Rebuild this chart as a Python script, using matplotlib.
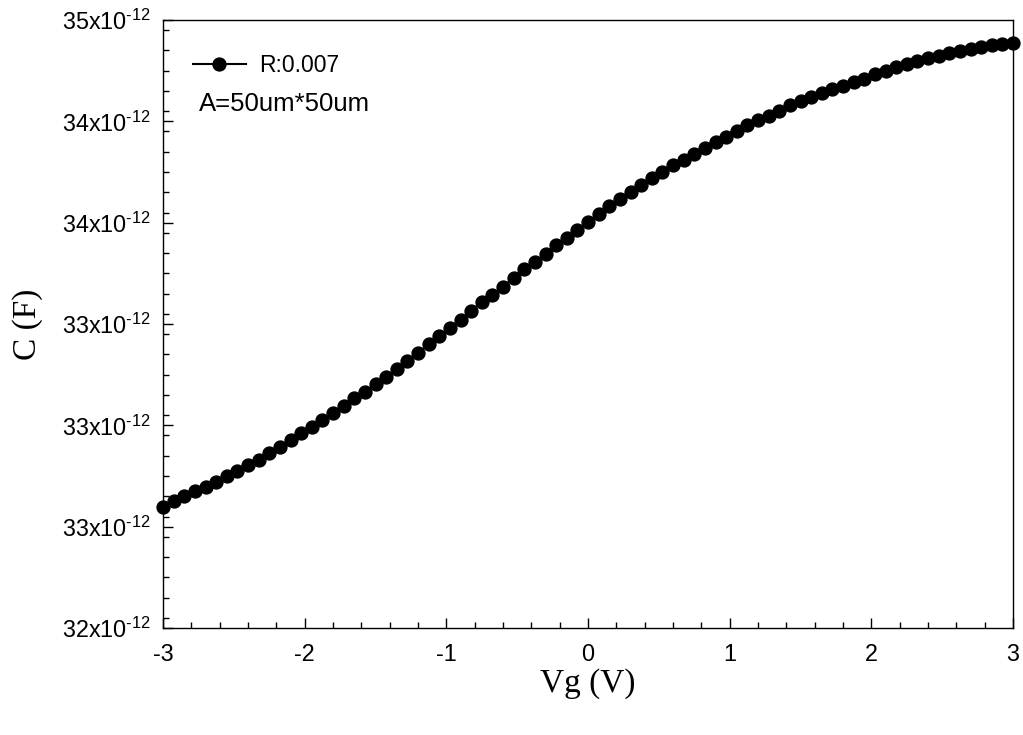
import numpy as np
import matplotlib
matplotlib.use("Agg")
from matplotlib import pyplot as plt
from matplotlib.ticker import FixedLocator, MultipleLocator, FixedFormatter

# Gate voltage sweep, -3 V to 3 V in 0.075 V steps
vg = np.linspace(-3, 3, 81)

# Capacitance (pF)
cap_pf = [
    32.679, 32.703, 32.721, 32.739, 32.758, 32.777, 32.799, 32.820, 32.843, 32.865,
    32.892, 32.915, 32.941, 32.969, 32.992, 33.023, 33.050, 33.077, 33.107, 33.133,
    33.162, 33.191, 33.224, 33.254, 33.286, 33.320, 33.353, 33.386, 33.417, 33.452,
    33.486, 33.515, 33.548, 33.582, 33.616, 33.646, 33.676, 33.711, 33.739, 33.773,
    33.804, 33.835, 33.865, 33.893, 33.923, 33.950, 33.976, 33.999, 34.026, 34.049,
    34.073, 34.095, 34.118, 34.140, 34.163, 34.184, 34.204, 34.223, 34.242, 34.264,
    34.280, 34.296, 34.312, 34.328, 34.341, 34.356, 34.369, 34.385, 34.400, 34.414,
    34.426, 34.439, 34.449, 34.459, 34.468, 34.478, 34.487, 34.494, 34.500, 34.505,
    34.510,
]

# y tick positions (pF) and the labels as the original prints them
y_ticks = [32.2, 32.6, 33.0, 33.4, 33.8, 34.2, 34.6]
y_labels = ["32", "33", "33", "33", "34", "34", "35"]
x_ticks = [-3, -2, -1, 0, 1, 2, 3]

series_label = "R:0.007"
area_note = "A=50um*50um"

plt.rcParams["font.family"] = ["Liberation Sans", "DejaVu Sans"]
plt.rcParams["mathtext.fontset"] = "custom"
plt.rcParams["mathtext.rm"] = "Liberation Sans"
plt.rcParams["mathtext.it"] = "Liberation Sans:italic"
plt.rcParams["mathtext.bf"] = "Liberation Sans:bold"
plt.rcParams["axes.unicode_minus"] = False

fig = plt.figure(figsize=(10.23, 7.35), dpi=100)
ax = fig.add_axes([163 / 1023, 107 / 735, 850 / 1023, 608 / 735])

ax.plot(vg, cap_pf, color="black", linewidth=1.5, marker="o",
        markersize=9.3, markerfacecolor="black", markeredgecolor="black",
        label=series_label, clip_on=False, zorder=3)

ax.set_xlim(-3, 3)
ax.set_ylim(32.2, 34.6)

ax.xaxis.set_major_locator(FixedLocator(x_ticks))
ax.xaxis.set_minor_locator(MultipleLocator(0.2))
ax.yaxis.set_major_locator(FixedLocator(y_ticks))
ax.yaxis.set_major_formatter(FixedFormatter([s + r"x10$^{\text{-12}}$" for s in y_labels]))
ax.yaxis.set_minor_locator(MultipleLocator(0.08))

ax.tick_params(which="both", direction="in", top=False, right=False,
               labelsize=16.8, width=1.0)
ax.tick_params(which="major", length=7)
ax.tick_params(which="minor", length=4.5)
ax.tick_params(axis="x", pad=11)
ax.tick_params(axis="y", pad=9)

for spine in ax.spines.values():
    spine.set_linewidth(1.0)

ax.set_xlabel("Vg (V)", fontsize=24, family="Liberation Serif")
ax.set_ylabel("C (F)", fontsize=24, family="Liberation Serif")
ax.xaxis.set_label_coords(0.5, -0.066)
ax.yaxis.set_label_coords(-0.141, 0.5)

ax.legend(loc="center left", bbox_to_anchor=(0.0353, 0.925), frameon=False,
          borderpad=0, borderaxespad=0, handlelength=2.3, handletextpad=0.6,
          fontsize=16.5)
ax.text(0.042, 0.862, area_note, transform=ax.transAxes, fontsize=18.5,
        va="center", ha="left")

fig.savefig("out.png", dpi=100)
